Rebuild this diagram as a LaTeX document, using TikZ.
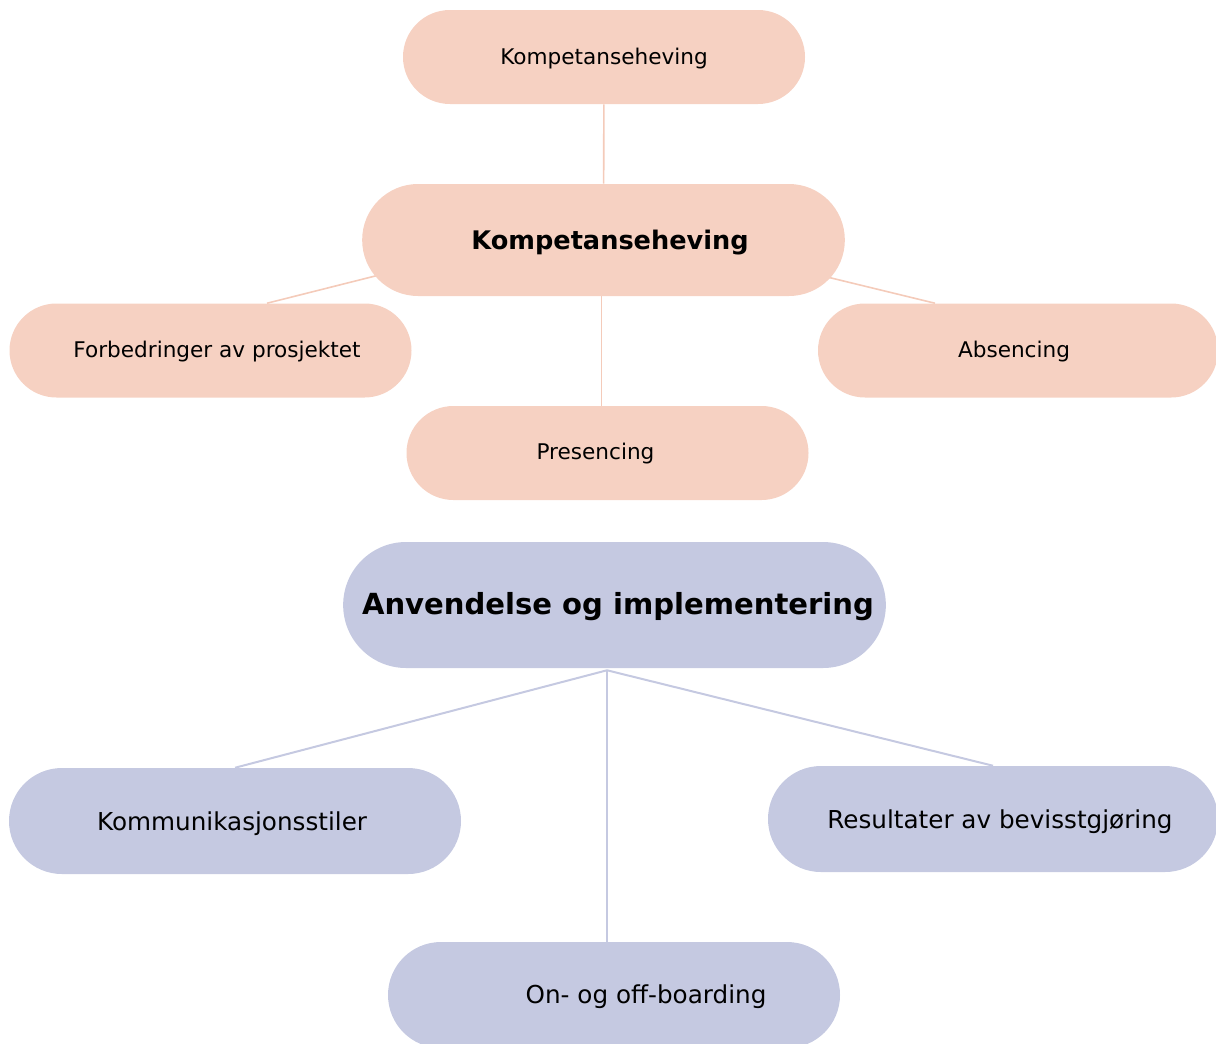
\documentclass[tikz,border=0pt]{standalone}
\usepackage{fontspec}
\setmainfont{DejaVu Sans}
\usetikzlibrary{backgrounds,calc}
\definecolor{peach}{HTML}{F6D1C2}
\definecolor{peachline}{HTML}{F4CBBA}
\definecolor{lav}{HTML}{C5C9E1}
\newcommand\fsmall{\fontsize{16.2}{19}\selectfont}
\newcommand\fblue{\fontsize{18.5}{22}\selectfont}
\newcommand\fhead{\fontsize{19.2}{23}\selectfont\bfseries}
\newcommand\fheadbig{\fontsize{21.8}{26}\selectfont\bfseries}
\tikzset{
    peachbox/.style={fill=peach, minimum width=301.5pt, minimum height=70.5pt,
        rounded corners=35.2pt},
    peachmain/.style={fill=peach, minimum width=362pt, minimum height=84pt,
        rounded corners=41.9pt},
    lavbox/.style={fill=lav, minimum width=339pt, minimum height=79.5pt,
        rounded corners=39.7pt},
    lavmain/.style={fill=lav, minimum width=407pt, minimum height=94.5pt,
        rounded corners=47.2pt},
    ptext/.style={font=\fsmall},
    htext/.style={font=\fhead},
    ltext/.style={font=\fblue},
    bigtext/.style={font=\fheadbig},
    pline/.style={draw=peachline, line width=1.2pt},
    lline/.style={draw=lav, line width=1.5pt}
}
\begin{document}
\begin{tikzpicture}[x=0.75pt, y=-0.75pt]
    \useasboundingbox (0,0) rectangle (1216,1043);
    % upper group
    \node[peachbox, label={[ptext, yshift=-0.8pt]center:Kompetanseheving}] (top) at (604,57) {};
    \node[peachmain, label={[htext, xshift=4.9pt, yshift=-2pt]center:Kompetanseheving}] (kmain) at (603.5,240) {};
    \node[peachbox, label={[ptext, xshift=4.9pt, yshift=-0.5pt]center:Forbedringer av prosjektet}] (forb) at (210.5,350.5) {};
    \node[peachbox, minimum width=300pt, label={[ptext, xshift=-3pt, yshift=-1pt]center:Absencing}] (absen) at (1018,350.5) {};
    \node[peachbox, label={[ptext, xshift=-9pt, yshift=-0.5pt]center:Presencing}] (presen) at (607.5,453) {};
    % lower group
    \node[lavmain, label={[bigtext, xshift=2.6pt, yshift=-1.5pt]center:Anvendelse og implementering}] (amain) at (614.5,605) {};
    \node[lavbox, label={[ltext, xshift=-2.2pt, yshift=-2pt]center:Kommunikasjonsstiler}] (komm) at (235,821) {};
    \node[lavbox, minimum width=337.5pt, label={[ltext, xshift=5.2pt, yshift=-2pt]center:Resultater av bevisstgjøring}] (resul) at (993,819) {};
    \node[lavbox, label={[ltext, xshift=24pt, yshift=-1pt]center:On- og off-boarding}] (onoff) at (614,995) {};
    \coordinate (hub) at ($(amain.south)+(-7.5,2)$);
    \begin{scope}[on background layer]
        \draw[pline] (top) -- (kmain);
        \draw[pline] ($(kmain.center)+(-2,0)$) -- ($(kmain.center |- presen.center)+(-2,0)$);
        \draw[pline] ($(forb.north)+(56.5,0)$) -- ($(kmain.west)+(53,26)$);
        \draw[pline] ($(absen.north)+(-83,0)$) -- ($(kmain.east)+(-55,28)$);
        \draw[lline] (hub) -- (komm.north);
        \draw[lline] (hub) -- (hub |- onoff.north);
        \draw[lline] (hub) -- (resul.north);
    \end{scope}
\end{tikzpicture}
\end{document}
